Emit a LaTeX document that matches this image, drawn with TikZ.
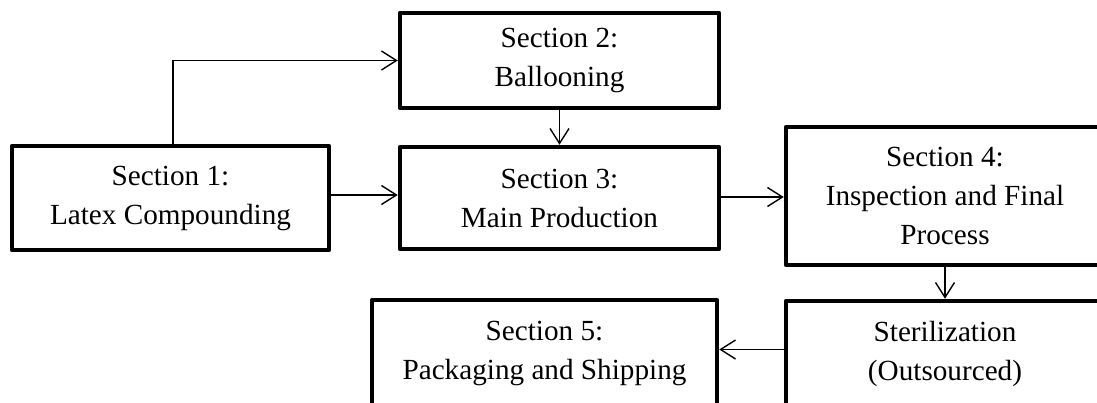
\documentclass[tikz,border=0pt]{standalone}
\usepackage{fontspec}
\setmainfont{Liberation Serif}
\usetikzlibrary{arrows.meta}

\tikzset{
  stage/.style={draw=black, line width=4.5pt, line join=round, fill=white,
    align=center, inner sep=0pt,
    font=\fontsize{29.2}{39}\selectfont},
  flow/.style={draw=black, line width=1.4pt,
    -{Straight Barb[length=15pt,width=19pt,line width=1.4pt]}}
}

\begin{document}
\begin{tikzpicture}[x=1pt,y=-1pt]
  \useasboundingbox (0,0) rectangle (1097,402);
  \clip (0,0) rectangle (1097,402);

  % process stages
  \node[stage, minimum width=317pt, minimum height=104pt] (s1) at (170.5,198)
    {Section 1:\\Latex Compounding};
  \node[stage, minimum width=319pt, minimum height=95pt] (s2) at (559.5,60.5)
    {Section 2:\\Ballooning};
  \node[stage, minimum width=319pt, minimum height=102pt] (s3) at (559.5,198)
    {Section 3:\\Main Production};
  \node[stage, minimum width=318pt, minimum height=138pt] (s4) at (945,196)
    {Section 4:\\Inspection and Final\\Process};
  \node[stage, minimum width=318pt, minimum height=105pt] (ster) at (945,353.5)
    {Sterilization\\(Outsourced)};
  \node[stage, minimum width=345pt, minimum height=106pt] (s5) at (544.5,353)
    {Section 5:\\Packaging and Shipping};

  % material flow between stages
  \draw[flow] ([xshift=2.5pt]s1.north) |- (s2.west);
  \draw[flow] ([yshift=3pt]s1.east) -- ([yshift=3pt]s1.east -| s3.west);
  \draw[flow] (s2.south) -- (s3.north);
  \draw[flow] ([yshift=1pt]s3.east) -- ([yshift=1pt]s3.east -| s4.west);
  \draw[flow] (s4.south) -- (ster.north);
  \draw[flow] ([yshift=4pt]ster.west) -- ([yshift=4pt]ster.west -| s5.east);
\end{tikzpicture}
\end{document}
